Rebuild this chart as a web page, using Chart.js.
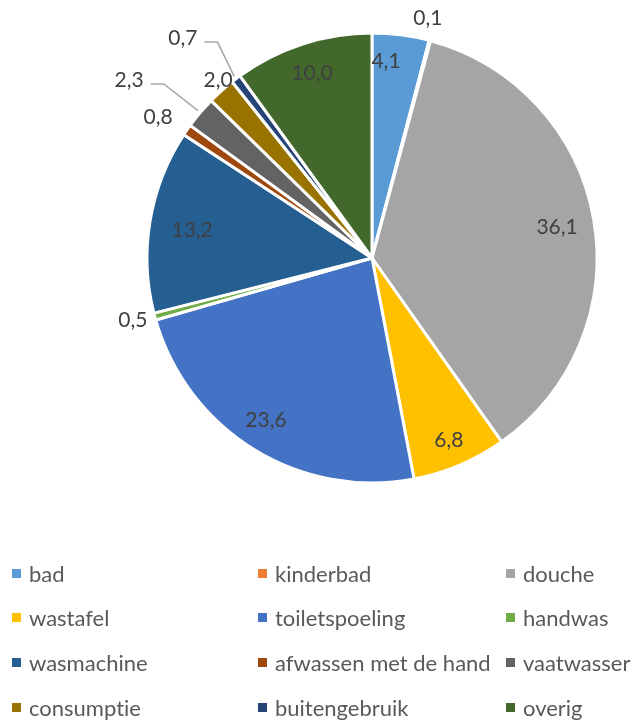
<!DOCTYPE html>
<html>
<head>
<meta charset="utf-8">
<script src="https://cdn.jsdelivr.net/npm/chart.js@4.4.1/dist/chart.umd.min.js"></script>
<style>
  body { margin: 0; background: #fff; }
  #wrap { position: relative; width: 631px; height: 720px; }
  #legend { position: absolute; left: 0; top: 0; width: 631px; height: 720px; font-family: Lato, sans-serif; font-size: 22px; color: #595959; font-variant-ligatures: none; }
  .item { position: absolute; white-space: nowrap; height: 30px; display: flex; align-items: center; }
  .box { display: inline-block; width: 9px; height: 9px; margin-right: 8px; }
</style>
</head>
<body>
<div id="wrap">
  <canvas id="pieChart" width="631" height="720"></canvas>
  <div id="legend"></div>
</div>
<script>
const categories = ['bad', 'kinderbad', 'douche', 'wastafel', 'toiletspoeling', 'handwas',
  'wasmachine', 'afwassen met de hand', 'vaatwasser', 'consumptie', 'buitengebruik', 'overig'];
const values = [4.1, 0.1, 36.1, 6.8, 23.6, 0.5, 13.2, 0.8, 2.3, 2.0, 0.7, 10.0];
const colors = ['#5B9BD5', '#ED7D31', '#A5A5A5', '#FFC000', '#4472C4', '#70AD47',
  '#255E91', '#9E480E', '#636363', '#997300', '#264478', '#43682B'];

// label placement: radius as fraction of the pie radius, angle shift in degrees
const labelRadius = [0.878, 1.095, 0.834, 0.878, 0.86, 1.098, 0.809, 1.138, 1.338, 1.044, 1.289, 0.864];
const labelShift = [-3.3, -1.8, 0.6, 0.1, 1.6, 0.6, -0.7, -1.3, -4, 1.1, -3.5, 0];
const leaderLine = [false, false, false, false, false, false, false, false, true, false, true, false];

const fmt = v => v.toFixed(1).replace('.', ',');

const valueLabels = {
  id: 'valueLabels',
  afterDatasetsDraw(chart) {
    const ctx = chart.ctx;
    const meta = chart.getDatasetMeta(0);
    ctx.save();
    ctx.font = '21px Lato';
    ctx.fillStyle = '#404040';
    ctx.textAlign = 'center';
    ctx.textBaseline = 'middle';
    meta.data.forEach((arc, i) => {
      const p = arc.getProps(['x', 'y', 'startAngle', 'endAngle', 'outerRadius']);
      const mid = (p.startAngle + p.endAngle) / 2;
      const a = mid + labelShift[i] * Math.PI / 180;
      const r = p.outerRadius * labelRadius[i];
      const lx = p.x + Math.cos(a) * r;
      const ly = p.y + Math.sin(a) * r;
      const txt = fmt(values[i]);
      ctx.fillText(txt, lx, ly);
      if (leaderLine[i]) {
        const w = ctx.measureText(txt).width;
        const sx = lx + w / 2 + 7, sy = ly + 4;
        const ex = p.x + Math.cos(mid) * (p.outerRadius + 3);
        const ey = p.y + Math.sin(mid) * (p.outerRadius + 3);
        ctx.beginPath();
        ctx.strokeStyle = '#A6A6A6';
        ctx.lineWidth = 1.5;
        ctx.moveTo(sx, sy);
        ctx.lineTo(sx + 13, sy);
        ctx.lineTo(ex, ey);
        ctx.stroke();
      }
    });
    ctx.restore();
  }
};

const ctx = document.getElementById('pieChart').getContext('2d');
const pieChart = new Chart(ctx, {
  type: 'pie',
  data: {
    labels: categories,
    datasets: [{
      data: values,
      backgroundColor: colors,
      borderColor: '#ffffff',
      borderWidth: 3,
      radius: 225
    }]
  },
  options: {
    responsive: false,
    animation: false,
    layout: { padding: { left: 147, right: 34, top: 33, bottom: 237 } },
    plugins: {
      legend: { display: false },
      tooltip: { enabled: false }
    }
  },
  plugins: [valueLabels]
});

// legend in three columns (row centres at 573, 617, 662, 707)
const colX = [12, 258, 506];
const rowY = [558, 602, 647, 692];
const legend = document.getElementById('legend');
categories.forEach((name, i) => {
  const item = document.createElement('div');
  item.className = 'item';
  item.style.left = colX[i % 3] + 'px';
  item.style.top = rowY[Math.floor(i / 3)] + 'px';
  item.innerHTML = '<span class="box" style="background:' + colors[i] + '"></span>' + name;
  legend.appendChild(item);
});
</script>
</body>
</html>
